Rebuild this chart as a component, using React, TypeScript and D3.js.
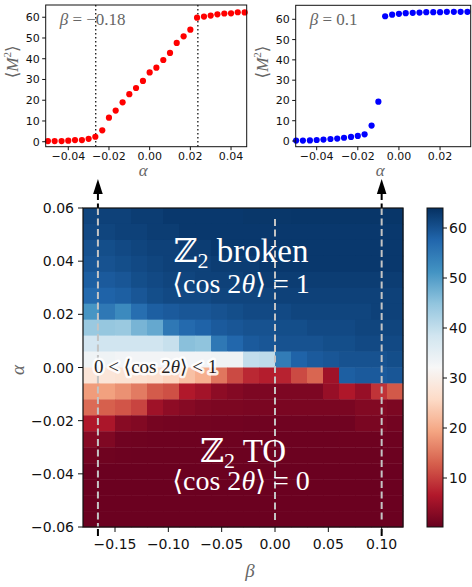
import React from "react";
import * as d3 from "d3";

// ---------- data ----------
const alphaPoints = [-0.05, -0.0467, -0.0433, -0.04, -0.0367, -0.0333, -0.03, -0.0267, -0.0233, -0.02, -0.0167, -0.0133, -0.01, -0.0067, -0.0033, 0, 0.0033, 0.0067, 0.01, 0.0133, 0.0167, 0.02, 0.0233, 0.0267, 0.03, 0.0333, 0.0367, 0.04, 0.0433, 0.0467];
const m2Left = [0.3, 0.3, 0.3, 0.5, 0.8, 0.8, 1.4, 2.4, 5.5, 11.6, 15.0, 19.0, 22.9, 25.9, 29.3, 33.4, 35.7, 39.4, 42.8, 47.6, 50.8, 54.0, 59.8, 60.3, 60.8, 61.4, 61.8, 61.9, 62.4, 62.3];
const m2Right = [0.2, 0.2, 0.3, 0.5, 0.7, 1.0, 1.2, 1.6, 2.0, 2.5, 3.3, 7.6, 19.4, 61.5, 62.3, 62.7, 63.0, 63.2, 63.3, 63.5, 63.5, 63.5, 63.7, 63.7, 63.7, 63.7];
const leftCritical = [-0.0265, 0.0237];

const betaCenters = [-0.1725, -0.1575, -0.1425, -0.1275, -0.1125, -0.0975, -0.0825, -0.0675, -0.0525, -0.0375, -0.0225, -0.0075, 0.0075, 0.0225, 0.0375, 0.0525, 0.0675, 0.0825, 0.0975, 0.1125];
const alphaCenters = [0.057, 0.051, 0.045, 0.039, 0.033, 0.027, 0.021, 0.015, 0.009, 0.003, -0.003, -0.009, -0.015, -0.021, -0.027, -0.033, -0.039, -0.045, -0.051, -0.057];
const heat: number[][] = [
  [61.5, 62, 62, 62.5, 62.5, 63, 63, 63, 63, 63, 63.2, 63.2, 63.2, 63.3, 63.3, 63.3, 63.3, 63.3, 63.3, 63.3],
  [61, 61.5, 62, 62, 62.5, 62.5, 63, 63, 63, 63, 63, 63, 63, 63, 63, 63, 63, 63, 63, 63],
  [60, 60.5, 61, 61.5, 62, 62, 62.5, 62.5, 63, 63, 63, 63, 63, 63, 63, 63, 63, 63, 63, 63],
  [59.5, 60, 60.5, 61, 61.5, 62, 62, 62, 62.5, 62.5, 62.5, 63, 63, 63, 63, 63, 63, 63, 63, 63],
  [58.5, 59, 59.5, 60.5, 61, 61.5, 61.5, 62, 62, 62, 62.5, 62.5, 62.5, 62.5, 62.5, 62.5, 62.5, 62.5, 62.5, 62.5],
  [57, 58, 58.5, 59.5, 60.5, 61, 61, 61, 61.5, 61.5, 61.5, 61.5, 62, 62, 62, 62, 62, 62, 62, 62],
  [51, 55, 52.5, 56.5, 58.5, 59, 59.5, 59.5, 60, 60.5, 61, 61, 61, 61.5, 61.5, 61.5, 61.5, 61.5, 62, 62],
  [44, 44.5, 44, 47, 48.5, 55, 57, 58, 59, 59.5, 60, 60, 60.5, 60.5, 61, 61, 61, 61.5, 61.5, 61.5],
  [38, 38.5, 38.5, 38.5, 38.5, 39.5, 45.5, 45, 55, 57.5, 59, 59.5, 60, 60, 60, 60.5, 60.5, 61, 61, 61],
  [33.5, 33.5, 33, 33, 33, 33, 33, 33, 33.5, 33.5, 40, 40.5, 54.5, 58, 59, 59.5, 60, 60, 60, 60.5],
  [28, 28, 27.5, 27, 26.5, 25, 22.5, 20.5, 15, 11, 8, 7, 7.5, 11, 13.5, 5, 58.5, 59, 59, 59.5],
  [18.5, 19, 17.5, 15.5, 12.5, 11.5, 6.5, 5.3, 3.4, 2.7, 2.1, 2.1, 2.1, 2.1, 2.1, 4.3, 6.3, 4.3, 9, 12.3],
  [14, 13, 12, 10.5, 5, 3.5, 2.8, 2.2, 2, 2, 1.8, 1.8, 1.8, 1.8, 1.8, 1.8, 1.8, 2.5, 2.5, 2],
  [6.3, 6, 3, 2.5, 1.5, 1.3, 1.2, 1.2, 1.1, 1.1, 1, 1, 1, 1, 1, 1, 1, 1.8, 1.8, 1.2],
  [2.8, 2.2, 1, 0.9, 0.8, 0.8, 0.8, 0.8, 0.8, 0.8, 0.7, 0.7, 0.7, 0.7, 0.7, 0.7, 0.8, 0.8, 0.8, 0.8],
  [1.3, 0.9, 0.7, 0.6, 0.6, 0.6, 0.6, 0.6, 0.6, 0.6, 0.6, 0.6, 0.6, 0.6, 0.6, 0.6, 0.6, 0.6, 0.6, 0.6],
  [0.5, 0.5, 0.5, 0.5, 0.5, 0.5, 0.5, 0.5, 0.5, 0.5, 0.5, 0.5, 0.5, 0.5, 0.5, 0.5, 0.5, 0.5, 0.5, 0.5],
  [0.5, 0.5, 0.5, 0.5, 0.5, 0.5, 0.5, 0.5, 0.5, 0.5, 0.5, 0.5, 0.5, 0.5, 0.5, 0.5, 0.5, 0.5, 0.5, 0.5],
  [0.5, 0.5, 0.5, 0.5, 0.5, 0.5, 0.5, 0.5, 0.5, 0.5, 0.5, 0.5, 0.5, 0.5, 0.5, 0.5, 0.5, 0.5, 0.5, 0.5],
  [0.5, 0.5, 0.5, 0.5, 0.5, 0.5, 0.5, 0.5, 0.5, 0.5, 0.5, 0.5, 0.5, 0.5, 0.5, 0.5, 0.5, 0.5, 0.5, 0.5],
];
const dashedBetas = [-0.166, 0.0, 0.1];
const mainXTicks = [-0.15, -0.1, -0.05, 0, 0.05, 0.1];
const mainYTicks = [0.06, 0.04, 0.02, 0, -0.02, -0.04, -0.06];
const cbTicks = [10, 20, 30, 40, 50, 60];
const insetYTicks = [0, 10, 20, 30, 40, 50, 60];
const leftXTicks = [-0.04, -0.02, 0, 0.02, 0.04];
const rightXTicks = [-0.04, -0.02, 0, 0.02];
const rdbu = ["#67001f", "#b2182b", "#d6604d", "#f4a582", "#fddbc7", "#f7f7f7", "#d1e5f0", "#92c5de", "#4393c3", "#2166ac", "#053061"];

// ---------- helpers ----------
const vmin = 0.2, vmax = 64;
const color = d3
  .scaleLinear<string>()
  .domain(rdbu.map((_, i) => vmin + ((vmax - vmin) * i) / (rdbu.length - 1)))
  .range(rdbu)
  .interpolate(d3.interpolateRgb)
  .clamp(true);

const fmt2 = (v: number) => d3.format(".2f")(v).replace("-", "\u2212");
const TICKF = "DejaVu Sans, sans-serif";
const SERIF = "'Liberation Serif', 'DejaVu Serif', serif";
const LABEL = "#666";

function Inset({ x0, x1, y0, y1, xDomain, yDomain, xs, ys, fill, xTicks, betaText, vlines }: any) {
  const xScale = d3.scaleLinear().domain(xDomain).range([x0, x1]);
  const yScale = d3.scaleLinear().domain(yDomain).range([y1, y0]);
  const cx = (x0 + x1) / 2;
  return (
    <g>
      {vlines.map((v: number, i: number) => (
        <line key={i} x1={xScale(v)} x2={xScale(v)} y1={y0} y2={y1} stroke="#000" strokeWidth={1.2} strokeDasharray="1.5,2.5" />
      ))}
      {xs.map((a: number, i: number) => (
        <circle key={i} cx={xScale(a)} cy={yScale(ys[i])} r={3.1} fill={fill} />
      ))}
      <rect x={x0} y={y0} width={x1 - x0} height={y1 - y0} fill="none" stroke="#111" strokeWidth={1} />
      {xTicks.map((t: number, i: number) => (
        <g key={i}>
          <line x1={xScale(t)} x2={xScale(t)} y1={y1} y2={y1 + 3.5} stroke="#111" />
          <text x={xScale(t)} y={y1 + 13} textAnchor="middle" fontSize={11} fontFamily={TICKF} fill="#111">{fmt2(t)}</text>
        </g>
      ))}
      {insetYTicks.map((t: number, i: number) => (
        <g key={i}>
          <line x1={x0 - 3.5} x2={x0} y1={yScale(t)} y2={yScale(t)} stroke="#111" />
          <text x={x0 - 6} y={yScale(t) + 4} textAnchor="end" fontSize={11} fontFamily={TICKF} fill="#111">{t}</text>
        </g>
      ))}
      <text x={cx - 3} y={y1 + 29} textAnchor="middle" fontSize={17} fontFamily={SERIF} fontStyle="italic" fill={LABEL}>α</text>
      <text transform={`translate(${x0 - 28},${(y0 + y1) / 2 - 14}) rotate(-90)`} textAnchor="middle" fontSize={17} fontFamily={SERIF} fill={LABEL}>
        ⟨<tspan fontStyle="italic">M</tspan><tspan fontSize={11} dy={-7}>2</tspan><tspan dy={7}>⟩</tspan>
      </text>
      <text x={x0 + 14} y={y0 + 20} fontSize={17} fontFamily={SERIF} fill={LABEL}>
        <tspan fontStyle="italic">β</tspan> = {betaText}
      </text>
    </g>
  );
}

export default function App() {
  const mx0 = 83, mx1 = 403, my0 = 208, my1 = 527;
  const xS = d3.scaleLinear().domain([-0.18, 0.12]).range([mx0, mx1]);
  const yS = d3.scaleLinear().domain([-0.06, 0.06]).range([my1, my0]);
  const halfB = Math.abs(betaCenters[1] - betaCenters[0]) / 2;
  const halfA = Math.abs(alphaCenters[0] - alphaCenters[1]) / 2;
  const cbx0 = 427, cbx1 = 443;
  const cbS = d3.scaleLinear().domain([vmin, vmax]).range([my1, my0]);
  const gradStops = d3.range(0, 1.0001, 0.02);

  const arrowBetas = [dashedBetas[0], dashedBetas[2]];

  return (
    <svg width={472} height={587} style={{ position: "absolute", left: 0, top: 0, background: "#fff" }}>
      <defs>
        <linearGradient id="cbgrad" x1="0" y1="1" x2="0" y2="0">
          {gradStops.map((t, i) => (
            <stop key={i} offset={t} stopColor={color(vmin + t * (vmax - vmin))} />
          ))}
        </linearGradient>
      </defs>
      <rect width={472} height={587} fill="#fff" />

      <Inset x0={45.7} x1={246.7} y0={5} y1={146.7} xDomain={[-0.0511, 0.0477]} yDomain={[-2.4, 65.9]}
        xs={alphaPoints} ys={m2Left} fill="#ff0000" xTicks={leftXTicks} betaText={"\u22120.18"} vlines={leftCritical} />
      <Inset x0={295.7} x1={470.7} y0={5.3} y1={146.7} xDomain={[-0.0502, 0.0349]} yDomain={[-2.8, 66.9]}
        xs={alphaPoints.slice(0, m2Right.length)} ys={m2Right} fill="#0000ff" xTicks={rightXTicks} betaText={"0.1"} vlines={[]} />

      {/* black arrows from heatmap to insets */}
      {arrowBetas.map((b, i) => (
        <g key={i}>
          <line x1={xS(b)} x2={xS(b)} y1={536} y2={192} stroke="#000" strokeWidth={2} strokeDasharray="7,3.5" />
          <path d={`M${xS(b)},179 L${xS(b) - 4.8},194 L${xS(b) + 4.8},194 Z`} fill="#000" />
        </g>
      ))}

      {/* heatmap */}
      {heat.map((row, r) =>
        row.map((v, c) => (
          <rect key={`${r}-${c}`}
            x={xS(betaCenters[c] - halfB)} y={yS(alphaCenters[r] + halfA)}
            width={xS(betaCenters[c] + halfB) - xS(betaCenters[c] - halfB) + 0.4}
            height={yS(alphaCenters[r] - halfA) - yS(alphaCenters[r] + halfA) + 0.4}
            fill={color(v)} />
        ))
      )}

      {/* gray dashed lines */}
      <line x1={xS(dashedBetas[0])} x2={xS(dashedBetas[0])} y1={my0} y2={my1} stroke="#c4c4c4" strokeWidth={2} strokeDasharray="7,3.5" />
      <line x1={xS(dashedBetas[1])} x2={xS(dashedBetas[1])} y1={219} y2={522} stroke="#c4c4c4" strokeWidth={2} strokeDasharray="7,3.5" />
      <line x1={xS(dashedBetas[2])} x2={xS(dashedBetas[2])} y1={my0} y2={523} stroke="#c4c4c4" strokeWidth={2} strokeDasharray="7,3.5" />

      {/* region labels */}
      <g fontFamily={SERIF} fill="#fff" textAnchor="middle">
        <text x={241} y={262} fontSize={33}>ℤ<tspan fontSize={22} dy={6}>2</tspan><tspan dy={-6}> broken</tspan></text>
        <text x={241} y={293} fontSize={28}>⟨cos 2<tspan fontStyle="italic">θ</tspan>⟩ = 1</text>
        <text x={243} y={462} fontSize={33}>ℤ<tspan fontSize={22} dy={6}>2</tspan><tspan dy={-6}> TO</tspan></text>
        <text x={241} y={490} fontSize={28}>⟨cos 2<tspan fontStyle="italic">θ</tspan>⟩ = 0</text>
      </g>
      <text x={94} y={373} fontSize={19} fontFamily={SERIF} fill="#000" stroke="#fff" strokeWidth={5} strokeLinejoin="round" opacity={0.85}
        style={{ paintOrder: "stroke" }}>
        0 &lt; ⟨cos 2<tspan fontStyle="italic">θ</tspan>⟩ &lt; 1
      </text>

      {/* main frame and axes */}
      <rect x={mx0} y={my0} width={mx1 - mx0} height={my1 - my0} fill="none" stroke="#111" strokeWidth={1.2} />
      {mainXTicks.map((t, i) => (
        <g key={i}>
          <line x1={xS(t)} x2={xS(t)} y1={my1} y2={my1 + 5} stroke="#111" strokeWidth={1} />
          <text x={xS(t)} y={my1 + 22} textAnchor="middle" fontSize={14} fontFamily={TICKF} fill="#111">{fmt2(t)}</text>
        </g>
      ))}
      {mainYTicks.map((t, i) => (
        <g key={i}>
          <line x1={mx0 - 5} x2={mx0} y1={yS(t)} y2={yS(t)} stroke="#111" strokeWidth={1} />
          <text x={mx0 - 9} y={yS(t) + 5} textAnchor="end" fontSize={14} fontFamily={TICKF} fill="#111">{fmt2(t)}</text>
        </g>
      ))}
      <text x={250} y={577} textAnchor="middle" fontSize={19} fontFamily={SERIF} fontStyle="italic" fill={LABEL}>β</text>
      <text transform={`translate(${24},${370}) rotate(-90)`} textAnchor="middle" fontSize={19} fontFamily={SERIF} fontStyle="italic" fill={LABEL}>α</text>

      {/* colorbar */}
      <rect x={cbx0} y={my0} width={cbx1 - cbx0} height={my1 - my0} fill="url(#cbgrad)" stroke="#111" strokeWidth={1} />
      {cbTicks.map((t, i) => (
        <g key={i}>
          <line x1={cbx1} x2={cbx1 + 4} y1={cbS(t)} y2={cbS(t)} stroke="#111" />
          <text x={cbx1 + 6} y={cbS(t) + 5} fontSize={14} fontFamily={TICKF} fill="#111">{t}</text>
        </g>
      ))}
    </svg>
  );
}
